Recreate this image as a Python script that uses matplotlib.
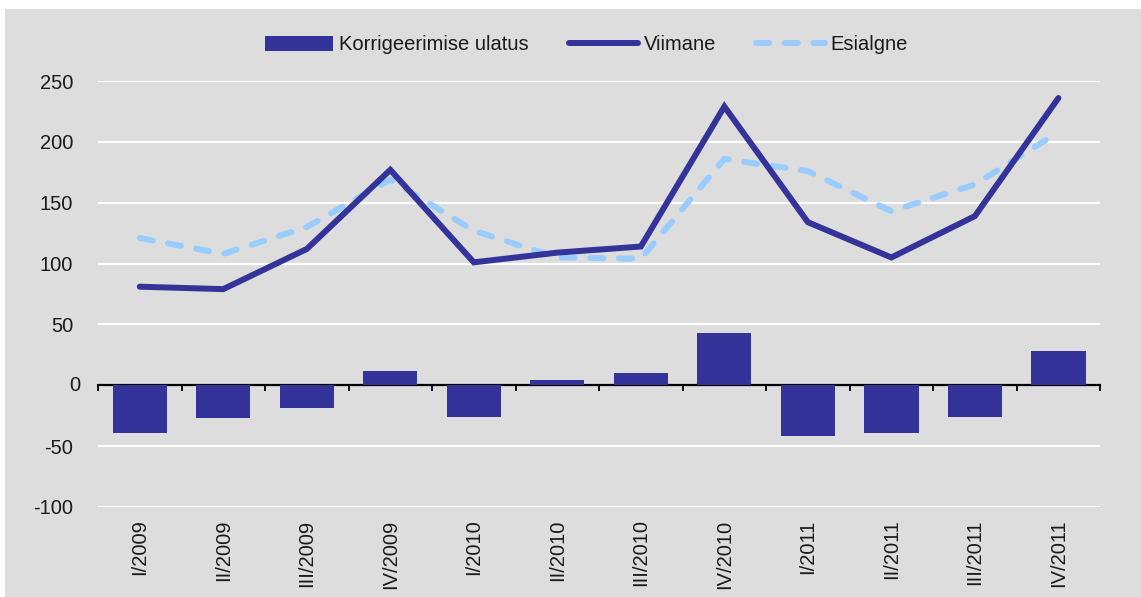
import numpy as np
import matplotlib
matplotlib.use("Agg")
import matplotlib.pyplot as plt
from matplotlib.patches import Rectangle

plt.rcParams['font.family'] = ['Liberation Sans', 'DejaVu Sans']

quarters = ["I/2009", "II/2009", "III/2009", "IV/2009",
            "I/2010", "II/2010", "III/2010", "IV/2010",
            "I/2011", "II/2011", "III/2011", "IV/2011"]
viimane = [81, 79, 112, 177, 101, 109, 114, 229, 134, 105, 139, 236]
esialgne = [121, 108, 130, 169, 127, 105, 104, 186, 176, 143, 165, 208]
korrigeerimine = [-39, -27, -19, 12, -26, 4, 10, 43, -42, -39, -26, 28]
yticks = [-100, -50, 50, 100, 150, 200, 250]

dark = "#333399"
light = "#99ccff"
bg = "#dddddd"
txt = "#1a1a1a"
fs = 14.5

fig = plt.figure(figsize=(11.41, 5.97), dpi=100)
fig.patch.set_facecolor("white")
fig.patches.append(Rectangle((5 / 1141, 0), 1, 1 - 9 / 597, transform=fig.transFigure,
                             facecolor=bg, edgecolor="none", zorder=-10))

ax = fig.add_axes([0.0859, 0.1508, 0.8783, 0.7135])
ax.set_facecolor(bg)
x = np.arange(len(quarters))

bars = ax.bar(x, korrigeerimine, width=0.65, color=dark, zorder=2)
l1, = ax.plot(x, viimane, color=dark, lw=4.3, zorder=4, solid_joinstyle="miter",
              solid_capstyle="round")
l2, = ax.plot(x, esialgne, color=light, lw=4.3, zorder=3, dashes=(2.2, 2.6),
              dash_capstyle="round")

ax.set_xlim(-0.5, len(quarters) - 0.5)
ax.set_ylim(-100, 250)
ax.set_yticks(yticks)
ax.set_yticklabels([str(v) for v in yticks])
ax.yaxis.grid(True, color="white", lw=1.6, zorder=0)
ax.set_axisbelow(True)
ax.tick_params(axis="y", length=0, pad=18, labelsize=fs, labelcolor=txt)
for s in ax.spines.values():
    s.set_visible(False)

# "0" label sits left of the black zero line
ax.annotate("0", xy=(0, 0), xycoords=("axes fraction", "data"), xytext=(-18, 0),
            textcoords="offset pixels", ha="right", va="center", fontsize=fs, color=txt)

ax.set_xticks(x)
ax.set_xticklabels(quarters, rotation=90, fontsize=fs, color=txt)
ax.tick_params(axis="x", length=0, pad=9)

zero_axis = ax.secondary_xaxis(100 / 350)
zero_axis.set_xticks(np.arange(len(quarters) + 1) - 0.5)
zero_axis.set_xticklabels([])
zero_axis.tick_params(axis="x", direction="out", length=4, width=1.3, color="black")
zero_axis.spines["bottom"].set_linewidth(1.6)
zero_axis.spines["bottom"].set_color("black")

leg = fig.legend([bars, l1, l2], ["Korrigeerimise ulatus", "Viimane", "Esialgne"],
                 loc="center", bbox_to_anchor=(0.5 + 16 / 1141, 1 - 45 / 597), ncol=3,
                 frameon=False, fontsize=fs, handlelength=3.4, handletextpad=0.3,
                 columnspacing=2.0)
for t in leg.get_texts():
    t.set_color(txt)

fig.savefig("out.png", dpi=100, facecolor=fig.get_facecolor())
